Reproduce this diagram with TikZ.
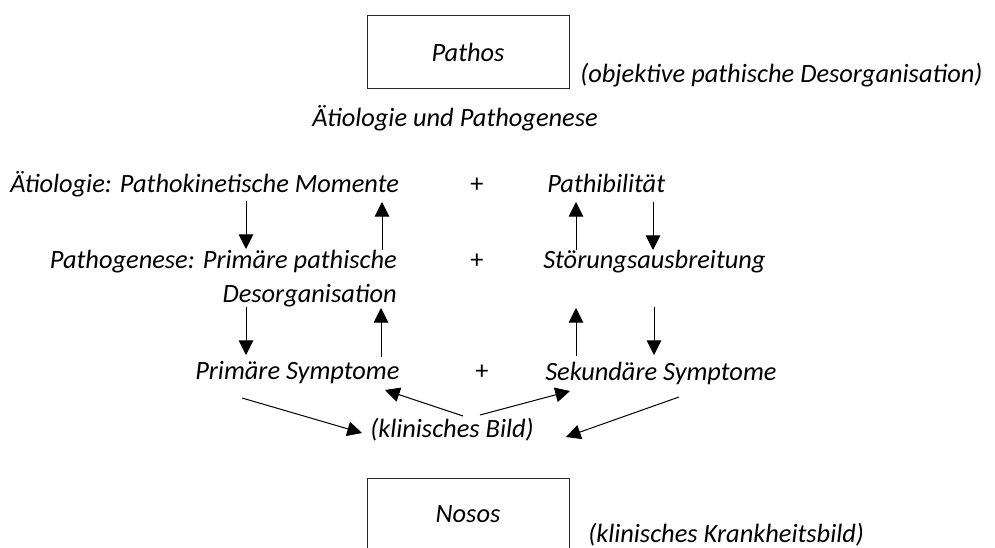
\documentclass[tikz,border=0pt]{standalone}
\usepackage{fontspec}
\setmainfont{Carlito}
\usetikzlibrary{arrows.meta}
\begin{document}
\begin{tikzpicture}[x=0.75pt,y=-0.75pt,
  txt/.style={inner sep=0pt, font=\fontsize{19.8}{24}\selectfont\itshape},
  plus/.style={inner sep=0pt, font=\fontsize{19.8}{24}\selectfont},
  box/.style={draw=black!85, line width=0.75pt, minimum width=151.5pt, minimum height=54.75pt, inner sep=0pt, font=\fontsize{19.8}{24}\selectfont\itshape},
  arr/.style={-{Triangle[length=11pt,width=11pt]}, line width=0.75pt}]
\useasboundingbox (0,0) rectangle (995,548);
\clip (0,0) rectangle (995,548);
% boxes and labels
\node[box] (pathos) at (468,52.5) {Pathos};
\node[txt, anchor=base west] (pathosdesc) at (580,83) {(objektive pathische Desorganisation)};
\node[txt, anchor=base east] (aetpath) at (598,127) {Ätiologie und Pathogenese};
\node[txt, anchor=base west] (etio) at (10,193) {Ätiologie: Pathokinetische Momente};
\node[plus, anchor=base] (plusA) at (477,193) {+};
\node[txt, anchor=base west] (pathib) at (547,193) {Pathibilität};
\node[txt, anchor=base east] (pathogA) at (397,269) {Pathogenese: Primäre pathische};
\node[txt, anchor=base east] (pathogB) at (397,303) {Desorganisation};
\node[plus, anchor=base] (plusB) at (477,269) {+};
\node[txt, anchor=base west] (stoer) at (543,269) {Störungsausbreitung};
\node[txt, anchor=base west] (primsym) at (195,380) {Primäre Symptome};
\node[plus, anchor=base] (plusC) at (482,380) {+};
\node[txt, anchor=base west] (seksym) at (545,381) {Sekundäre Symptome};
\node[txt, anchor=base west] (klin) at (370,437) {(klinisches Bild)};
\node[box] (nosos) at (468,514.5) {Nosos};
\node[txt, anchor=base west] (nososdesc) at (588,542) {(klinisches Krankheitsbild)};
% arrow end points
\coordinate (a1s) at (246,201); \coordinate (a1e) at (246,249);
\coordinate (a2s) at (382,250); \coordinate (a2e) at (382,202);
\coordinate (a3s) at (576,250); \coordinate (a3e) at (576,202);
\coordinate (a4s) at (653,202); \coordinate (a4e) at (653,250);
\coordinate (a5s) at (246,307); \coordinate (a5e) at (246,355);
\coordinate (a6s) at (381,357); \coordinate (a6e) at (381,308);
\coordinate (a7s) at (576,356); \coordinate (a7e) at (576,308);
\coordinate (a8s) at (654,307); \coordinate (a8e) at (654,355);
\coordinate (a9s) at (242,398); \coordinate (a9e) at (362,433);
\coordinate (a10s) at (463,416); \coordinate (a10e) at (385,390);
\coordinate (a11s) at (480,415); \coordinate (a11e) at (570,391);
\coordinate (a12s) at (679,397); \coordinate (a12e) at (566,437);
\foreach \i in {1,...,12} {\draw[arr] (a\i s) -- (a\i e);}
\end{tikzpicture}
\end{document}
